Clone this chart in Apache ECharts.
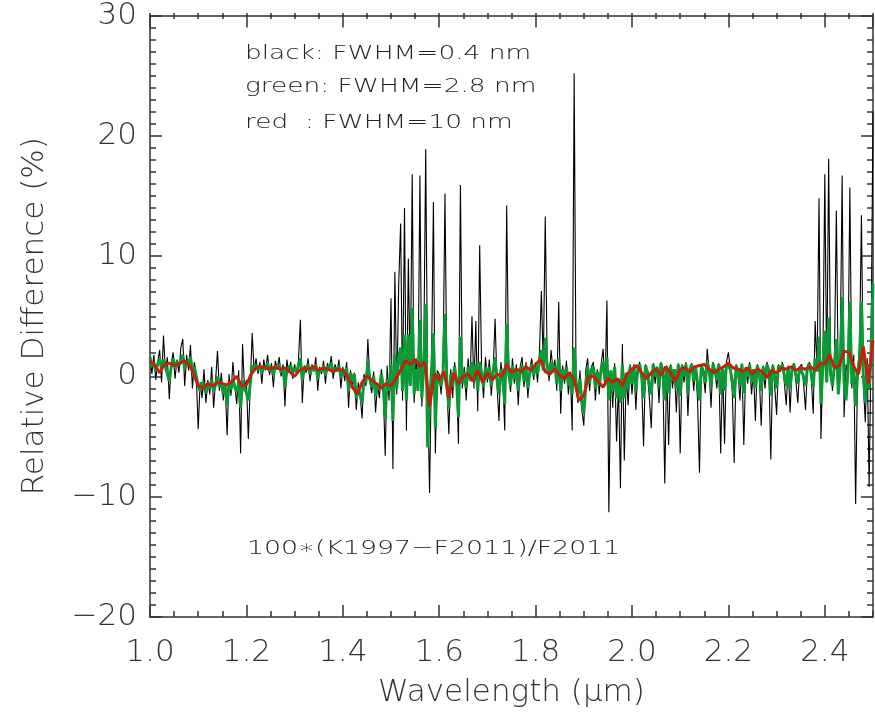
<!DOCTYPE html>
<html><head><meta charset="utf-8">
<script src="https://cdn.jsdelivr.net/npm/echarts@6/dist/echarts.min.js"></script>
<style>html,body{margin:0;padding:0;background:#fff}#c{width:875px;height:722px}</style>
</head><body><div id="c"></div>
<script>
// wavelength sampling grids (micron)
const xMin = 1.0, xMax = 2.5;
const fineStart = 1.0, fineStep = 0.004;   // black & green sampling
const coarseStart = 1.0, coarseStep = 0.01; // red sampling
const xTicks = [1.0, 1.2, 1.4, 1.6, 1.8, 2.0, 2.2, 2.4];
const yTicks = [-20, -10, 0, 10, 20, 30];

// black: FWHM = 0.4 nm (relative difference, %)
const blackY = [
  1.5,0.2,1.8,-0.3,1.2,2.2,-0.5,3.4,0.4,1.6,-1.9,1.0,2.0,-0.2,1.4,0.3,2.4,3.1,-0.8,1.8,0.5,2.6,-1.0,1.2,0.1,
  -4.4,-0.5,-1.8,0.6,-2.2,-0.3,-1.5,0.8,-2.6,-0.4,2.1,-1.2,0.3,-2.0,-0.6,-4.9,0.2,-1.6,1.2,-0.8,-2.3,0.5,-6.4,2.7,-1.0,
  -0.3,-5.2,-0.8,3.6,0.4,1.5,0.2,1.2,-0.6,1.4,0.5,1.8,0.1,1.1,-0.9,1.3,0.6,1.6,0.0,1.0,-2.5,1.4,0.3,1.2,-0.2,
  1.0,0.2,1.3,4.7,-2.2,0.9,0.3,1.5,-0.4,1.0,0.4,1.6,-1.2,0.8,0.2,1.3,-0.6,1.1,0.5,1.7,-0.2,1.0,0.4,1.4,-1.0,
  0.8,-0.4,1.2,-2.6,0.5,-1.0,0.3,-2.8,-0.5,-1.6,-3.5,0.2,-0.8,3.1,-0.3,-1.4,0.4,-3.0,-0.6,-1.8,0.6,-1.2,-6.6,0.9,-2.0,
  6.5,-7.7,8.7,-1.5,7.7,12.7,-2.0,14.0,-4.5,9.8,-0.5,16.8,-2.2,1.5,-1.0,16.7,-2.5,1.8,18.9,-1.2,-9.7,0.8,14.5,-6.4,0.5,
  0.2,-1.5,1.0,15.2,-0.8,-4.8,0.6,-1.8,1.2,-0.5,-5.6,15.9,-1.0,0.8,-2.0,1.5,-0.4,5.0,-1.0,4.6,-2.9,10.9,0.5,-1.8,1.6,
  -0.5,1.4,-1.6,0.6,4.8,-0.8,-3.7,1.2,-0.2,-4.5,14.2,0.4,-1.3,1.5,-0.6,1.0,-2.4,0.8,1.6,-0.9,1.2,-1.8,0.6,1.5,-0.3,
  1.2,-0.5,2.0,7.1,0.8,13.3,1.5,-0.4,2.2,0.6,1.4,-1.2,6.2,-3.1,0.9,-0.6,1.3,-1.5,0.4,-4.5,25.2,-1.0,-2.2,0.5,-2.8,
  -4.1,0.5,1.5,-1.2,0.8,1.2,-2.0,0.6,-1.5,1.0,2.3,-0.8,6.3,-11.3,0.4,-2.6,1.1,-5.4,-0.5,-9.3,2.7,-7.0,0.2,-2.4,1.0,
  -1.5,1.0,-2.8,0.6,1.2,-0.4,-5.8,1.0,0.3,-1.8,-4.3,1.1,-0.6,0.8,-2.2,1.2,0.2,-8.9,0.9,-5.7,1.0,-1.0,0.6,-3.0,1.1,
  -6.4,1.0,-0.5,1.2,-3.3,0.6,1.1,-1.2,0.9,-2.0,-8.0,1.0,0.2,-1.4,2.3,0.5,-2.6,1.2,0.4,-1.0,1.1,-6.4,0.8,-5.6,1.2,
  2.0,0.6,-1.2,-7.2,1.0,0.3,-2.0,1.1,-5.7,0.8,-0.6,1.2,-1.5,0.5,-3.7,1.0,0.2,-4.1,0.9,-1.0,1.2,0.4,-6.9,1.0,-0.8,
  -3.2,1.0,0.4,1.2,-0.5,-2.4,0.9,-3.0,0.6,1.1,-0.4,-2.2,0.8,1.0,-0.6,-2.8,0.7,1.2,-0.3,-3.1,4.6,0.5,14.8,-5.2,1.0,
  16.8,-0.5,18.1,0.8,-1.2,1.5,13.8,-0.8,2.0,16.7,-3.4,1.0,0.2,15.7,-1.0,1.8,-10.6,0.5,2.2,13.4,-0.6,-3.8,1.5,-9.2,2.5,22.0
];

// green: FWHM = 2.8 nm
const greenY = [
  1.6,0.8,1.2,0.4,1.0,1.5,0.6,1.4,0.9,0.2,-0.4,0.8,1.5,0.7,1.2,0.9,1.4,1.8,0.6,1.3,1.0,1.6,0.4,0.8,0.0,
  -0.8,-1.2,-0.5,-0.9,-1.4,-0.6,-1.0,-0.3,-1.2,-0.7,0.0,-0.9,-0.4,-1.5,-0.8,-2.4,-0.6,-1.1,-0.2,-0.9,-1.3,-0.5,-2.6,-0.4,-1.0,
  -1.4,-2.0,-0.6,0.9,0.6,1.0,0.5,0.9,0.3,0.8,0.6,1.1,0.4,0.8,0.1,0.9,0.6,1.0,0.3,0.7,-0.9,0.6,0.5,0.9,0.3,
  0.7,0.4,0.9,1.5,-0.3,0.6,0.5,1.0,0.2,0.8,0.5,1.0,-0.2,0.6,0.4,0.9,0.1,0.7,0.6,1.1,0.3,0.7,0.5,0.9,0.0,
  0.6,0.1,0.7,-1.2,0.3,-0.4,0.2,-1.8,-0.9,-1.6,-2.2,-0.2,-0.5,1.2,-0.2,-0.9,0.0,-1.6,-0.8,-1.0,0.2,-0.8,-3.5,-0.2,-1.2,
  1.0,-3.7,1.8,-1.0,1.6,2.4,-1.2,3.5,-2.0,3.5,-0.8,5.7,-1.5,0.6,-1.2,4.7,-1.8,0.8,6.0,-5.9,-2.0,0.4,3.6,-4.3,0.2,
  0.3,-0.8,0.4,5.2,-0.6,-2.6,0.2,-0.9,0.8,-0.4,-3.4,3.3,-0.6,0.4,-1.0,0.8,-0.2,1.2,-0.4,1.0,-1.2,1.2,0.2,-0.9,0.8,
  -0.2,0.8,-0.8,0.4,1.6,-0.3,-1.5,0.6,-0.2,-2.3,4.4,0.3,-0.8,0.9,-0.2,0.6,-1.2,0.5,0.9,-0.4,0.8,-1.0,0.4,1.0,0.1,
  0.9,0.2,1.2,2.2,0.5,3.2,0.8,0.1,1.2,0.5,0.9,-0.6,1.5,-1.2,0.6,-0.2,0.8,-0.8,0.2,-1.5,2.4,-0.6,-1.4,-0.2,-2.2,
  -3.1,-0.8,0.8,-0.6,0.6,0.8,-1.0,0.4,-0.8,0.6,1.2,-0.4,1.6,-2.0,0.5,-1.2,0.8,-1.8,-0.2,-2.2,1.0,-1.8,0.3,-1.0,0.8,
  -0.6,0.8,-1.2,0.6,1.0,0.0,-1.8,0.9,0.4,-0.8,-1.5,1.0,0.0,0.8,-0.9,1.1,0.4,-2.0,0.8,-1.4,0.9,-0.3,0.6,-1.0,1.0,
  -1.6,0.9,0.0,1.0,-1.2,0.6,1.0,-0.4,0.8,-0.6,-2.0,0.9,0.4,-0.5,1.2,0.5,-0.9,1.0,0.5,-0.3,1.0,-1.5,0.6,-1.2,1.0,
  1.1,0.6,-0.4,-1.8,0.9,0.4,-0.7,1.0,-1.4,0.7,0.0,1.0,-0.5,0.6,-1.0,0.9,0.3,-1.2,0.8,-0.3,1.0,0.5,-1.6,0.9,0.0,
  -1.0,0.9,0.5,1.0,0.1,-0.8,0.8,-1.0,0.6,1.0,0.1,-0.6,0.8,0.9,0.0,-0.8,0.7,1.1,0.2,-0.9,1.5,0.4,3.3,-2.3,0.8,
  3.8,-0.5,4.9,0.2,-0.8,1.0,3.1,-1.5,0.8,6.6,-0.5,-2.0,0.4,6.2,-0.6,1.0,-2.5,0.2,1.5,6.2,0.0,-2.2,1.0,-1.0,2.0,7.7
];

// red: FWHM = 10 nm
const redY = [
  1.3,0.9,0.3,1.0,1.1,0.9,1.0,1.3,1.0,0.3,
  -0.8,-1.0,-0.6,-0.8,-0.5,-0.6,-0.7,-0.4,0.0,-0.8,
  -0.7,0.2,0.7,0.8,0.7,0.6,0.8,0.6,0.7,0.4,
  0.0,0.5,0.7,0.6,0.8,0.5,0.7,0.6,0.4,0.6,
  0.5,0.0,-0.9,-1.5,-0.5,0.0,-0.3,-0.6,-1.0,-0.6,
  -0.8,-0.2,0.5,1.3,1.0,1.4,0.8,1.2,-2.5,0.2,
  -0.3,0.4,-1.8,0.3,-0.6,0.0,0.2,-0.4,0.5,-0.5,
  0.3,-0.3,0.2,0.0,1.0,0.3,0.6,0.4,0.8,0.5,
  1.0,1.4,0.4,0.2,0.6,0.1,-0.2,0.3,-0.3,-2.0,
  -1.6,0.0,0.0,-0.4,-0.9,-0.2,-0.5,-0.2,-0.8,0.2,
  0.6,0.9,0.3,-0.2,0.3,0.6,0.1,0.8,0.3,-0.4,
  0.6,0.7,0.4,0.8,0.9,1.0,0.6,0.3,0.6,0.8,
  1.1,0.7,0.6,0.4,0.7,0.2,0.6,0.4,-0.1,0.5,
  0.3,0.7,0.6,0.8,0.5,0.7,0.6,0.8,0.5,1.1,
  1.0,1.8,0.7,0.9,2.1,2.0,0.8,0.2,2.5,-0.6,3.0
];

const annotations = ['black: FWHM=0.4 nm', 'green: FWHM=2.8 nm', 'red  : FWHM=10 nm'];
const formulaText = '100\u2217(K1997\u2212F2011)/F2011';
const xTitle = 'Wavelength (\u03bcm)';
const yTitle = 'Relative Difference (%)';

const toPairs = (ys, start, step) => ys.map((v, i) => [+(start + i * step).toFixed(4), v]);

const FONT = 'DejaVu Sans';
const AX = '#333';
const lineStyle = { color: AX, width: 1.5 };

function xAxisMain(pos, labels) {
  return {
    type: 'value', gridIndex: 0, position: pos, min: xMin, max: xMax, interval: 0.2,
    axisLine: { show: true, onZero: false, lineStyle },
    axisTick: { show: true, inside: true, length: 12, lineStyle },
    minorTick: { show: false },
    splitLine: { show: false },
    axisLabel: {
      show: labels, margin: 20, fontFamily: FONT, fontWeight: 200, fontSize: 31, color: '#333',
      showMaxLabel: false,
      formatter: v => xTicks.some(t => Math.abs(t - v) < 1e-6) ? v.toFixed(1) : ''
    },
    name: labels ? xTitle : '', nameLocation: 'middle', nameGap: 60,
    nameTextStyle: { fontFamily: FONT, fontWeight: 200, fontSize: 31, color: '#333' }
  };
}
function xAxisMinor(pos) {
  return {
    type: 'value', gridIndex: 1, position: pos, min: xMin, max: xMax, interval: 0.05,
    axisLine: { show: false, onZero: false },
    axisTick: { show: true, inside: true, length: 6, lineStyle },
    splitLine: { show: false }, axisLabel: { show: false }
  };
}
function yAxisMain(pos, labels) {
  return {
    type: 'value', gridIndex: 0, position: pos, min: -20, max: 30, interval: 10,
    axisLine: { show: true, onZero: false, lineStyle },
    axisTick: { show: true, inside: true, length: 12, lineStyle },
    minorTick: { show: true, splitNumber: 10, length: 6, lineStyle },
    splitLine: { show: false },
    axisLabel: {
      show: labels, margin: 13, fontFamily: FONT, fontWeight: 200, fontSize: 31, color: '#333',
      formatter: v => yTicks.includes(v) ? String(v).replace('-', '\u2212') : ''
    },
    name: labels ? yTitle : '', nameLocation: 'middle', nameGap: 100,
    nameTextStyle: { fontFamily: FONT, fontWeight: 200, fontSize: 31, color: '#333' }
  };
}

const annFont = '200 20px "DejaVu Sans"';
const annY = [54, 87, 123];
const graphics = annotations.map((t, i) => ({
  type: 'text', x: 245, y: annY[i], scaleX: 1.32, silent: true,
  style: { text: t, font: annFont, fill: '#222', align: 'left', verticalAlign: 'middle' }
}));
graphics.push({
  type: 'text', x: 247, y: 549, scaleX: 1.34, silent: true,
  style: { text: formulaText, font: annFont, fill: '#222', align: 'left', verticalAlign: 'middle' }
});

const chart = echarts.init(document.getElementById('c'), null, { renderer: 'canvas' });
chart.setOption({
  animation: false,
  backgroundColor: '#fff',
  grid: [
    { left: 150, right: 2, top: 13, bottom: 105, containLabel: false },
    { left: 150, right: 2, top: 13, bottom: 105, containLabel: false }
  ],
  xAxis: [xAxisMain('bottom', true), xAxisMain('top', false), xAxisMinor('bottom'), xAxisMinor('top')],
  yAxis: [yAxisMain('left', true), yAxisMain('right', false),
          { type: 'value', gridIndex: 1, min: -20, max: 30, show: false }],
  graphic: graphics,
  series: [
    { name: 'black', type: 'line', xAxisIndex: 0, yAxisIndex: 0, data: toPairs(blackY, fineStart, fineStep),
      showSymbol: false, symbol: 'none', lineStyle: { color: '#000', width: 1.1 }, z: 2 },
    { name: 'green', type: 'line', xAxisIndex: 0, yAxisIndex: 0, data: toPairs(greenY, fineStart, fineStep),
      showSymbol: false, symbol: 'none', lineStyle: { color: '#0a9a36', width: 3 }, z: 3 },
    { name: 'red', type: 'line', xAxisIndex: 0, yAxisIndex: 0, data: toPairs(redY, coarseStart, coarseStep),
      showSymbol: false, symbol: 'none', lineStyle: { color: '#c0220c', width: 3 }, z: 4 }
  ]
});
</script>
</body></html>
